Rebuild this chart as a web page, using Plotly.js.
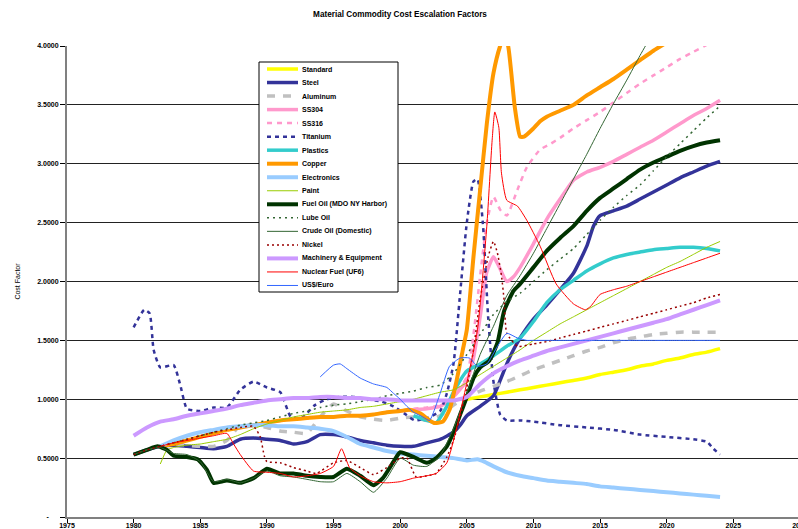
<!DOCTYPE html>
<html><head><meta charset="utf-8">
<script src="https://cdn.plot.ly/plotly-3.0.1.min.js"></script>
<style>html,body{margin:0;padding:0;overflow:hidden;background:#fff}#chart{width:800px;height:529px}</style>
</head><body><div id="chart"></div>
<script>
// ---------- data ----------
const seriesNames = ["Standard","Steel","Aluminum","SS304","SS316","Titanium","Plastics","Copper","Electronics","Paint","Fuel Oil (MDO NY Harbor)","Lube Oil","Crude Oil (Domestic)","Nickel","Machinery & Equipment","Nuclear Fuel (UF6)","US$/Euro"];

const standardYears = [2005,2006,2007,2008,2009,2010,2011,2012,2013,2014,2015,2016,2017,2018,2019,2020,2021,2022,2023,2024];
const standardValues = [1.00,1.02,1.04,1.06,1.08,1.10,1.12,1.14,1.16,1.18,1.21,1.23,1.25,1.28,1.30,1.33,1.35,1.38,1.40,1.43];

const steelYears = [1980,1981,1982,1983,1984,1985,1986,1987,1988,1989,1990,1991,1992,1993,1994,1995,1996,1997,1998,1999,2000,2001,2002,2003,2004,2004.5,2005,2006,2007,2007.5,2008,2008.5,2009,2010,2011,2012,2013,2014,2014.5,2015,2016,2017,2018,2019,2020,2021,2022,2023,2024];
const steelValues = [0.53,0.57,0.60,0.61,0.60,0.59,0.58,0.60,0.66,0.67,0.66,0.65,0.62,0.64,0.70,0.70,0.68,0.65,0.63,0.61,0.60,0.60,0.63,0.66,0.72,0.78,0.86,0.94,1.03,1.16,1.30,1.42,1.52,1.68,1.80,1.93,2.07,2.30,2.47,2.56,2.60,2.64,2.70,2.76,2.82,2.88,2.93,2.98,3.02];

const aluminumYears = [1982,1983,1984,1985,1986,1987,1988,1989,1990,1991,1992,1993,1994,1995,1996,1997,1998,1999,2000,2001,2002,2003,2004,2005,2006,2007,2008,2009,2010,2011,2012,2013,2014,2015,2016,2017,2018,2019,2020,2021,2022,2023,2024];
const aluminumValues = [0.60,0.62,0.61,0.60,0.60,0.65,0.78,0.78,0.76,0.73,0.72,0.71,0.85,0.96,0.90,0.85,0.83,0.82,0.84,0.85,0.82,0.86,0.95,1.02,1.07,1.11,1.15,1.20,1.25,1.29,1.33,1.37,1.41,1.44,1.48,1.51,1.53,1.55,1.56,1.57,1.57,1.57,1.57];

const ss304Years = [2000,2001,2002,2003,2004,2005,2005.5,2006,2006.5,2007,2007.4,2008,2008.5,2009,2010,2011,2012,2013,2014,2015,2016,2017,2018,2019,2020,2021,2022,2023,2024];
const ss304Values = [0.90,0.91,0.92,0.94,1.02,1.16,1.35,1.70,2.08,2.21,2.13,2.00,2.04,2.12,2.32,2.53,2.70,2.86,2.93,2.97,3.02,3.08,3.14,3.20,3.27,3.34,3.41,3.47,3.54];

const ss316Years = [2001,2002,2003,2004,2005,2005.5,2006,2006.5,2007,2007.5,2008,2008.8,2009.5,2010.5,2011.3,2012,2013,2014,2015,2016,2017,2018,2019,2020,2021,2022,2023,2024];
const ss316Values = [0.92,0.93,0.95,1.03,1.19,1.55,2.05,2.50,2.72,2.61,2.56,2.78,2.97,3.12,3.17,3.22,3.30,3.37,3.44,3.52,3.60,3.68,3.75,3.82,3.89,3.95,4.01,4.06];

const titaniumYears = [1980,1980.8,1981.2,1981.5,1982,1983,1983.5,1984,1985,1986,1987,1988,1989,1990,1991,1991.8,1992.6,1993.6,1994.5,1995.5,1996.5,1997.5,1998.6,1999.5,2000.3,2001.1,2002,2003,2003.5,2004,2004.5,2005,2005.5,2005.8,2006.2,2006.6,2007,2007.5,2008,2009,2010,2012,2014,2016,2018,2020,2022,2023,2023.5,2024];
const titaniumValues = [1.61,1.76,1.73,1.42,1.27,1.29,1.12,0.92,0.90,0.93,0.93,1.08,1.15,1.10,1.06,0.85,0.84,0.95,1.00,1.02,1.02,1.00,0.98,0.94,0.88,0.82,0.84,0.90,1.05,1.30,1.90,2.50,2.85,2.87,2.50,1.70,1.15,0.87,0.82,0.82,0.81,0.78,0.76,0.74,0.70,0.68,0.66,0.64,0.58,0.53];

const plasticsYears = [2001,2002,2002.7,2003.5,2004,2005,2006,2007,2008,2009,2010,2011,2012,2013,2014,2015,2016,2017,2018,2019,2020,2021,2022,2023,2024];
const plasticsValues = [0.86,0.82,0.80,0.94,1.06,1.24,1.30,1.37,1.45,1.52,1.66,1.82,1.93,2.01,2.09,2.15,2.20,2.23,2.25,2.27,2.28,2.29,2.29,2.28,2.26];

const copperYears = [1982,1983,1984,1985,1986,1987,1988,1989,1990,1991,1992,1993,1994,1995,1996,1997,1998,1999,2000,2000.7,2001.5,2002.5,2003.2,2003.7,2004.2,2004.7,2005,2005.5,2006,2006.5,2007,2007.5,2007.8,2008.1,2008.6,2009,2009.3,2010,2010.5,2011,2012,2013,2014,2015,2016,2017,2018,2019,2020,2021,2022,2023,2024];
const copperValues = [0.60,0.62,0.65,0.68,0.71,0.74,0.76,0.78,0.80,0.82,0.83,0.84,0.85,0.85,0.86,0.86,0.87,0.89,0.90,0.91,0.88,0.80,0.81,0.91,1.14,1.42,1.59,2.21,2.78,3.34,3.77,4.00,4.08,4.00,3.48,3.23,3.23,3.30,3.36,3.40,3.45,3.50,3.58,3.65,3.72,3.80,3.88,3.96,4.03,4.10,4.17,4.24,4.30];

const electronicsYears = [1982,1983,1984,1985,1986,1987,1988,1989,1990,1991,1992,1993,1994,1995,1996,1997,1998,1999,2000,2001,2002,2003,2004,2005,2005.8,2006.3,2007,2008,2009,2010,2011,2012,2013,2014,2015,2016,2017,2018,2019,2020,2021,2022,2023,2024];
const electronicsValues = [0.60,0.65,0.69,0.72,0.74,0.76,0.77,0.78,0.78,0.77,0.77,0.76,0.75,0.73,0.68,0.62,0.59,0.56,0.54,0.53,0.52,0.51,0.50,0.48,0.49,0.47,0.43,0.38,0.35,0.33,0.31,0.30,0.29,0.28,0.26,0.25,0.24,0.23,0.22,0.21,0.20,0.19,0.18,0.17];

const paintYears = [1982,1982.5,1983,1984,1985,1986,1987,1988,1989,1990,1991,1992,1993,1994,1995,1996,1997,1998,1999,2000,2001,2002,2003,2004,2005,2006,2007,2008,2009,2010,2011,2012,2013,2014,2015,2016,2017,2018,2019,2020,2021,2022,2023,2024];
const paintValues = [0.45,0.57,0.59,0.61,0.62,0.64,0.66,0.70,0.75,0.79,0.82,0.85,0.87,0.89,0.90,0.91,0.93,0.94,0.96,0.98,1.00,1.03,1.06,1.08,1.14,1.21,1.28,1.35,1.42,1.50,1.57,1.64,1.70,1.76,1.82,1.88,1.94,2.00,2.06,2.12,2.17,2.23,2.29,2.34];

const fuelOilYears = [1980,1981,1981.8,1982.5,1983,1984,1984.8,1985.5,1986,1987,1988,1989,1990,1991,1992,1993,1994,1995,1996,1997,1998,1998.7,1999.5,2000,2001,2002,2002.7,2003.5,2004,2004.5,2005,2005.5,2006,2006.7,2007.3,2007.8,2008.5,2009,2010,2011,2012,2013,2014,2015,2016,2017,2018,2019,2020,2021,2022,2023,2024];
const fuelOilValues = [0.53,0.57,0.60,0.57,0.52,0.51,0.49,0.40,0.29,0.31,0.29,0.33,0.41,0.37,0.37,0.35,0.34,0.34,0.41,0.35,0.27,0.33,0.47,0.55,0.51,0.46,0.50,0.60,0.72,0.87,1.02,1.18,1.27,1.33,1.48,1.75,1.92,1.98,2.12,2.26,2.37,2.47,2.60,2.71,2.79,2.87,2.95,3.01,3.06,3.11,3.15,3.18,3.20];

const lubeOilYears = [1980,1981,1982,1983,1984,1985,1986,1987,1988,1989,1990,1991,1992,1993,1994,1995,1996,1997,1998,1999,2000,2001,2002,2003,2004,2005,2006,2007,2008,2009,2010,2011,2012,2013,2014,2015,2016,2017,2018,2019,2020,2021,2022,2023,2024];
const lubeOilValues = [0.53,0.57,0.60,0.63,0.66,0.69,0.72,0.75,0.78,0.80,0.82,0.85,0.88,0.90,0.93,0.95,0.96,0.98,1.00,1.03,1.05,1.07,1.10,1.12,1.22,1.38,1.55,1.72,1.83,1.90,2.00,2.10,2.19,2.28,2.40,2.52,2.63,2.73,2.82,2.94,3.06,3.17,3.28,3.39,3.49];

const crudeOilYears = [1980,1981,1982,1983,1984,1985,1986,1987,1988,1989,1990,1991,1992,1993,1994,1995,1996,1997,1998,1999,2000,2001,2002,2003,2004,2005,2006,2007,2008,2009,2010,2011,2012,2013,2014,2015,2016,2017,2018,2019,2020,2021,2022,2023,2024];
const crudeOilValues = [0.53,0.57,0.59,0.54,0.53,0.47,0.30,0.32,0.29,0.33,0.39,0.35,0.34,0.32,0.30,0.30,0.37,0.30,0.21,0.33,0.50,0.44,0.43,0.52,0.75,1.05,1.38,1.62,1.88,2.05,2.24,2.45,2.66,2.87,3.08,3.30,3.51,3.71,3.92,4.12,4.33,4.53,4.73,4.93,5.13];

const nickelYears = [1980,1981,1982,1983,1984,1985,1986,1987,1988,1989,1989.5,1989.8,1990,1991,1992,1993,1993.7,1995,1996,1997,1998,1999,2000,2000.5,2001.2,2002,2002.7,2003.5,2004,2004.5,2005,2005.5,2006,2006.6,2007,2007.3,2007.6,2007.8,2008,2008.8,2010,2011,2012,2013,2014,2015,2016,2017,2018,2019,2020,2021,2022,2023,2024];
const nickelValues = [0.53,0.57,0.60,0.63,0.66,0.69,0.72,0.74,0.76,0.77,0.68,0.52,0.47,0.46,0.42,0.39,0.37,0.46,0.48,0.42,0.36,0.42,0.50,0.50,0.34,0.35,0.37,0.51,0.65,0.85,1.10,1.42,1.85,2.21,2.34,2.24,2.05,1.84,1.56,1.45,1.47,1.49,1.52,1.55,1.58,1.61,1.64,1.67,1.70,1.73,1.76,1.79,1.82,1.86,1.89];

const machineryYears = [1980,1981,1982,1983,1984,1985,1986,1987,1988,1989,1990,1991,1992,1993,1994,1995,1996,1997,1998,1999,2000,2001,2002,2003,2004,2005,2006,2007,2008,2009,2010,2011,2012,2013,2014,2015,2016,2017,2018,2019,2020,2021,2022,2023,2024];
const machineryValues = [0.69,0.76,0.81,0.83,0.86,0.88,0.90,0.92,0.95,0.97,0.99,1.00,1.01,1.01,1.02,1.02,1.01,1.01,1.00,1.00,0.99,0.99,0.99,0.99,0.99,1.02,1.13,1.22,1.28,1.33,1.37,1.41,1.44,1.47,1.50,1.53,1.56,1.59,1.62,1.65,1.68,1.72,1.76,1.80,1.84];

const nuclearYears = [1982,1983,1984,1985,1986,1987,1987.5,1988,1989,1990,1991,1992,1993,1994,1995,1995.6,1996.2,1997,1998,1999,2000,2001,2002,2002.7,2003.5,2004.2,2005,2005.8,2006.5,2006.9,2007.1,2007.4,2007.6,2008,2008.8,2009.5,2010.5,2011.7,2013,2013.9,2014.3,2015,2016,2017,2018,2019,2020,2021,2022,2023,2024];
const nuclearValues = [0.60,0.63,0.65,0.67,0.69,0.71,0.62,0.53,0.39,0.38,0.37,0.34,0.35,0.37,0.43,0.58,0.42,0.35,0.30,0.29,0.30,0.33,0.35,0.37,0.46,0.74,1.14,1.59,2.47,3.20,3.44,3.31,2.92,2.69,2.64,2.52,2.30,1.98,1.81,1.76,1.79,1.89,1.93,1.96,2.00,2.04,2.08,2.12,2.16,2.20,2.24];

const usdEuroYears = [1994,1995,1995.5,1996,1997,1998,1999,1999.5,2000,2000.5,2001,2001.7,2002.2,2003,2003.7,2004.5,2005.2,2005.8,2006.5,2007.3,2008,2008.8,2009.5,2010,2011,2012,2013,2014,2015,2016,2017,2018,2019,2020,2021,2022,2023,2024];
const usdEuroValues = [1.19,1.29,1.30,1.26,1.18,1.13,1.10,1.05,1.00,0.94,0.89,0.85,0.82,1.05,1.28,1.35,1.35,1.28,1.30,1.45,1.56,1.52,1.50,1.50,1.50,1.50,1.50,1.50,1.50,1.50,1.50,1.50,1.50,1.50,1.50,1.50,1.50,1.50];

const xTickYears = [1975,1980,1985,1990,1995,2000,2005,2010,2015,2020,2025,2030];
const yTickValues = [0,0.5,1,1.5,2,2.5,3,3.5,4];
const yTickLabels = ["-\u00a0\u00a0\u00a0\u00a0\u00a0","0.5000","1.0000","1.5000","2.0000","2.5000","3.0000","3.5000","4.0000"];

// ---------- styling ----------
const seriesX = [standardYears,steelYears,aluminumYears,ss304Years,ss316Years,titaniumYears,plasticsYears,copperYears,electronicsYears,paintYears,fuelOilYears,lubeOilYears,crudeOilYears,nickelYears,machineryYears,nuclearYears,usdEuroYears];
const seriesY = [standardValues,steelValues,aluminumValues,ss304Values,ss316Values,titaniumValues,plasticsValues,copperValues,electronicsValues,paintValues,fuelOilValues,lubeOilValues,crudeOilValues,nickelValues,machineryValues,nuclearValues,usdEuroValues];
const styles = [
  {color:'#FFFF00', width:3.5, dash:'solid'},
  {color:'#333399', width:3.5, dash:'solid'},
  {color:'#C0C0C0', width:3.5, dash:'8px,8px'},
  {color:'#FF99CC', width:3.5, dash:'solid'},
  {color:'#FF99CC', width:2.5, dash:'5px,5px'},
  {color:'#333399', width:2.5, dash:'4px,4px'},
  {color:'#33CCCC', width:3.5, dash:'solid'},
  {color:'#FF9900', width:4, dash:'solid'},
  {color:'#99CCFF', width:4, dash:'solid'},
  {color:'#99CC00', width:1, dash:'solid'},
  {color:'#003300', width:4, dash:'solid'},
  {color:'#336633', width:1.5, dash:'2px,4px'},
  {color:'#336633', width:1, dash:'solid'},
  {color:'#990000', width:1.5, dash:'2px,3px'},
  {color:'#CC99FF', width:4, dash:'solid'},
  {color:'#FF0000', width:1, dash:'solid'},
  {color:'#3366FF', width:1, dash:'solid'}
];

const W = 800, H = 529, ML = 67, MR = 0, MT = 46, MB = 12;
const PW = W - ML - MR, PH = H - MT - MB;
const px2x = p => (p - ML) / PW;
const py2y = p => (H - MB - p) / PH;
const FONT = 'Liberation Sans, Arial, sans-serif';

const traces = seriesNames.map((name, i) => ({
  type: 'scatter', mode: 'lines', name: name,
  x: seriesX[i], y: seriesY[i],
  line: {color: styles[i].color, width: styles[i].width, dash: styles[i].dash, shape: 'spline', smoothing: 0.5},
  showlegend: false, hoverinfo: 'skip'
}));

// custom legend box (Excel-like compact)
const shapes = [];
const annotations = [];
const boxL = 259, boxR = 398, boxT = 62, boxB = 292;
shapes.push({type:'rect', xref:'paper', yref:'paper', x0:px2x(boxL), x1:px2x(boxR), y0:py2y(boxB), y1:py2y(boxT),
  line:{color:'#000', width:1}, fillcolor:'#fff', layer:'above'});
const rowStep = (boxB - boxT) / seriesNames.length;
seriesNames.forEach((name, i) => {
  const cy = boxT + 7 + i * rowStep;
  shapes.push({type:'line', xref:'paper', yref:'paper', x0:px2x(267), x1:px2x(298), y0:py2y(cy), y1:py2y(cy),
    line:{color:styles[i].color, width:styles[i].width, dash:styles[i].dash}, layer:'above'});
  annotations.push({xref:'paper', yref:'paper', x:px2x(300), y:py2y(cy), xanchor:'left', yanchor:'middle',
    text: name.replace('&','&amp;'), showarrow:false, font:{family:FONT, size:7, color:'#000', weight:'bold'}});
});

const layout = {
  width: W, height: H,
  margin: {l:ML, r:MR, t:MT, b:MB},
  paper_bgcolor:'#fff', plot_bgcolor:'#fff',
  title: {text:'Material Commodity Cost Escalation Factors', x:0.5, xref:'container', y:1-14/H, yref:'container', yanchor:'middle',
    font:{family:FONT, size:8.2, color:'#000', weight:'bold'}},
  xaxis: {range:[1975,2030], tickmode:'array', tickvals:xTickYears, ticktext:xTickYears.map(String),
    ticks:'outside', ticklen:4, tickcolor:'#000', showline:true, linecolor:'#808080', linewidth:2,
    ticklabelstandoff:-3, ticklabeloverflow:'allow',
    showgrid:false, zeroline:false, tickfont:{family:FONT, size:7, color:'#000', weight:'bold'}},
  yaxis: {range:[0,4], tickmode:'array', tickvals:yTickValues, ticktext:yTickLabels,
    ticks:'outside', ticklen:5, tickcolor:'#000', showline:true, linecolor:'#808080', linewidth:2,
    showgrid:true, gridcolor:'#222', gridwidth:1, zeroline:false,
    tickfont:{family:FONT, size:7, color:'#000', weight:'bold'},
    title:{text:'Cost Factor', standoff:16, font:{family:FONT, size:7, color:'#000'}}},
  shapes: shapes, annotations: annotations,
  showlegend:false
};

Plotly.newPlot('chart', traces, layout, {staticPlot:true, displayModeBar:false});
</script></body></html>
